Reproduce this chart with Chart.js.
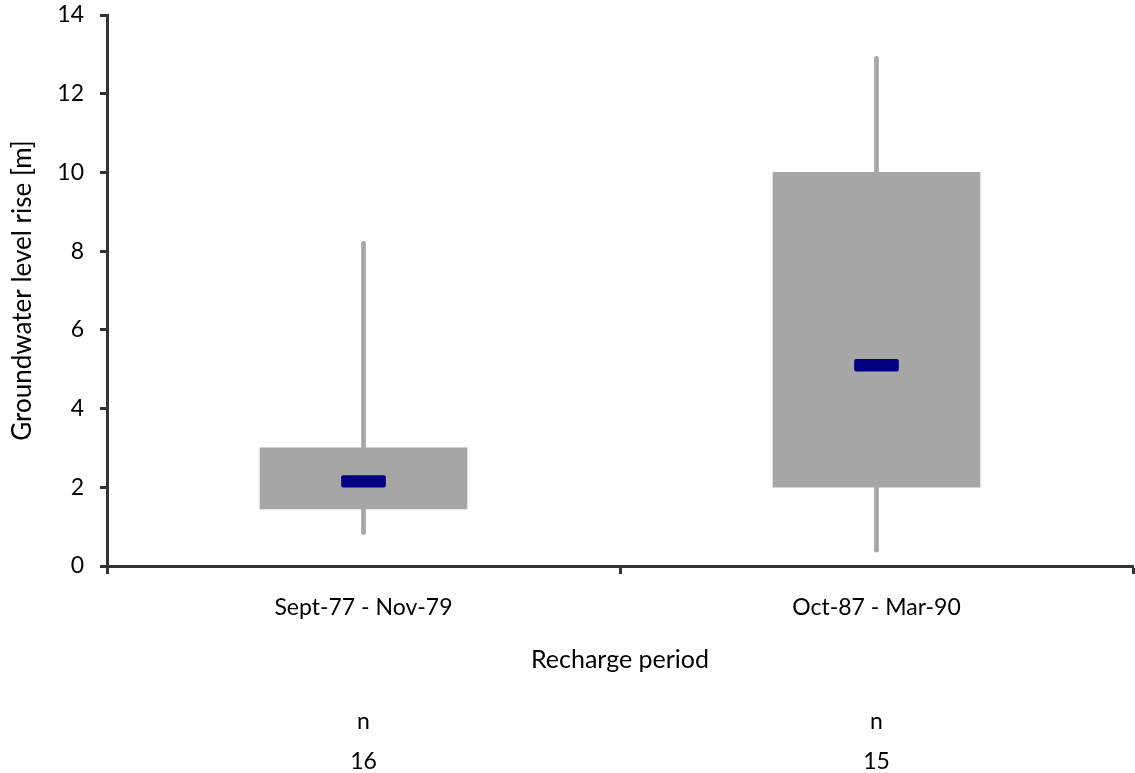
<!DOCTYPE html>
<html>
<head>
<meta charset="utf-8">
<script src="https://cdn.jsdelivr.net/npm/chart.js@4.4.1/dist/chart.umd.min.js"></script>
<style>
  html, body { margin: 0; padding: 0; background: #fff; }
  #wrap { width: 1135px; height: 773px; }
</style>
</head>
<body>
<div id="wrap"><canvas id="box"></canvas></div>
<script>
// recharge periods and the box-plot stats
const periods = ['Sept-77 - Nov-79', 'Oct-87 - Mar-90'];
const minVals = [0.8, 0.35];
const q1Vals = [1.45, 2.0];
const medVals = [2.15, 5.1];
const q3Vals = [3.0, 10.0];
const maxVals = [8.25, 12.95];
const nCounts = [16, 15];
const yTicks = [0, 2, 4, 6, 8, 10, 12, 14];

const axisColor = '#333333';
const boxGrey = '#a6a6a6';
const medianBlue = '#000080';
const font = { family: 'Lato', size: 23 };

const whiskers = periods.map((p, i) => [minVals[i], maxVals[i]]);
const boxes = periods.map((p, i) => [q1Vals[i], q3Vals[i]]);
const medians = periods.map((p, i) => [medVals[i] - 0.15, medVals[i] + 0.15]);

const ctx = document.getElementById('box');

new Chart(ctx, {
  type: 'bar',
  data: {
    labels: periods,
    datasets: [
      {
        label: 'range',
        data: whiskers,
        backgroundColor: boxGrey,
        barThickness: 4,
        borderRadius: 2,
        borderSkipped: false,
        grouped: false,
        order: 3
      },
      {
        label: 'box',
        data: boxes,
        backgroundColor: boxGrey,
        barThickness: 207,
        grouped: false,
        order: 2
      },
      {
        label: 'median',
        data: medians,
        backgroundColor: medianBlue,
        barThickness: 44,
        borderRadius: 2,
        borderSkipped: false,
        grouped: false,
        order: 1
      }
    ]
  },
  options: {
    responsive: true,
    maintainAspectRatio: false,
    animation: false,
    layout: { padding: { top: 15, right: 2, left: 0, bottom: 0 } },
    plugins: {
      legend: { display: false },
      tooltip: { enabled: false }
    },
    scales: {
      x: {
        type: 'category',
        offset: true,
        afterFit: axis => {
          axis.height = 109;
        },
        grid: {
          offset: true,
          drawOnChartArea: false,
          drawTicks: true,
          tickLength: 8,
          tickWidth: 3,
          tickColor: axisColor
        },
        border: { color: axisColor, width: 3 },
        ticks: { color: '#000', font: font, padding: 20 },
        title: {
          display: true,
          text: 'Recharge period',
          color: '#000',
          font: { family: 'Lato', size: 25 },
          padding: { top: 0, bottom: 0 }
        }
      },
      x2: {
        type: 'category',
        position: 'bottom',
        labels: nCounts.map(n => ['n', String(n)]),
        offset: true,
        weight: 1,
        afterFit: axis => {
          axis.height = 98;
        },
        grid: { display: false },
        border: { display: false },
        ticks: {
          color: '#000',
          font: { family: 'Lato', size: 23, lineHeight: 40 / 23 },
          padding: 19
        }
      },
      y: {
        min: 0,
        max: 14,
        afterBuildTicks: axis => {
          axis.ticks = yTicks.map(v => ({ value: v }));
        },
        afterFit: axis => {
          axis.width = 107;
          axis.paddingTop = 0;
          axis.paddingBottom = 0;
        },
        grid: {
          drawOnChartArea: false,
          drawTicks: true,
          tickLength: 7,
          tickWidth: 3,
          tickColor: axisColor
        },
        border: { color: axisColor, width: 3 },
        ticks: { color: '#000', font: font, padding: 16 },
        title: {
          display: true,
          text: 'Groundwater level rise [m]',
          color: '#000',
          font: { family: 'Lato', size: 26 },
          padding: { top: 7, bottom: 0 }
        }
      }
    }
  }
});
</script>
</body>
</html>
